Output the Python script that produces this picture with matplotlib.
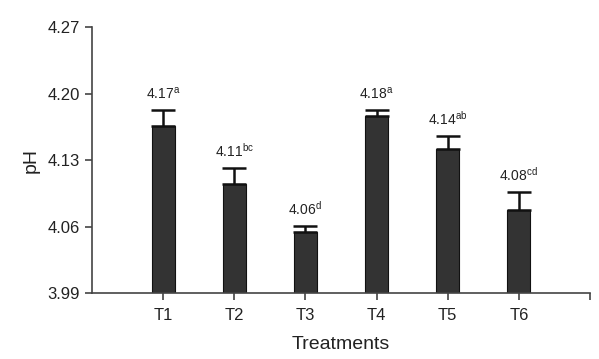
import numpy as np
import matplotlib
matplotlib.use("Agg")
import matplotlib.pyplot as plt

plt.rcParams['font.family'] = ['Liberation Sans Narrow', 'Liberation Sans', 'DejaVu Sans']
plt.rcParams['mathtext.fontset'] = 'custom'
plt.rcParams['mathtext.rm'] = 'Liberation Sans'

treatments = ["T1", "T2", "T3", "T4", "T5", "T6"]
ph_means = [4.166, 4.105, 4.054, 4.176, 4.142, 4.077]
ph_err = [0.017, 0.017, 0.007, 0.007, 0.013, 0.019]
mean_labels = ["4.17", "4.11", "4.06", "4.18", "4.14", "4.08"]
letters = ["a", "bc", "d", "a", "ab", "cd"]
y_ticks = [3.99, 4.06, 4.13, 4.20, 4.27]

fig = plt.figure(figsize=(5.99, 3.59), dpi=100)
ax = fig.add_axes([0.1536, 0.1838, 0.8314, 0.741])

x = np.arange(1, len(treatments) + 1)
base = y_ticks[0]
heights = np.array(ph_means) - base
ax.bar(x, heights, bottom=base, width=0.32, color="#333333",
       edgecolor="#111111", linewidth=0.8, zorder=2)
ax.errorbar(x, ph_means, yerr=[np.zeros(len(ph_err)), ph_err], fmt="none",
            ecolor="#111111", elinewidth=1.8, capsize=8.5, capthick=1.8,
            zorder=3)

for xi, m, e, lab, let in zip(x, ph_means, ph_err, mean_labels, letters):
    ax.annotate(lab + r"$^{\mathrm{" + let + "}}$", (xi, m + e),
                xytext=(0, 6), textcoords="offset points",
                ha="center", va="bottom", fontsize=10, color="#222222")

ax.set_xlim(0, 7)
ax.set_ylim(3.99, 4.27)
ax.set_yticks(y_ticks)
ax.set_yticklabels(["%.2f" % v for v in y_ticks])
ax.set_xticks(list(x) + [7])
ax.set_xticklabels(treatments + [""])

for s in ["top", "right"]:
    ax.spines[s].set_visible(False)
for s in ["left", "bottom"]:
    ax.spines[s].set_color("#444444")
    ax.spines[s].set_linewidth(1.2)
ax.tick_params(axis="both", colors="#444444", labelcolor="#222222",
               labelsize=12, length=5, width=1.2)
ax.tick_params(axis="x", pad=6)

ax.set_ylabel("pH", fontsize=14, color="#222222", labelpad=6)
ax.set_xlabel("Treatments", fontsize=14, color="#222222", labelpad=9)

plt.savefig("out.png", dpi=100)
